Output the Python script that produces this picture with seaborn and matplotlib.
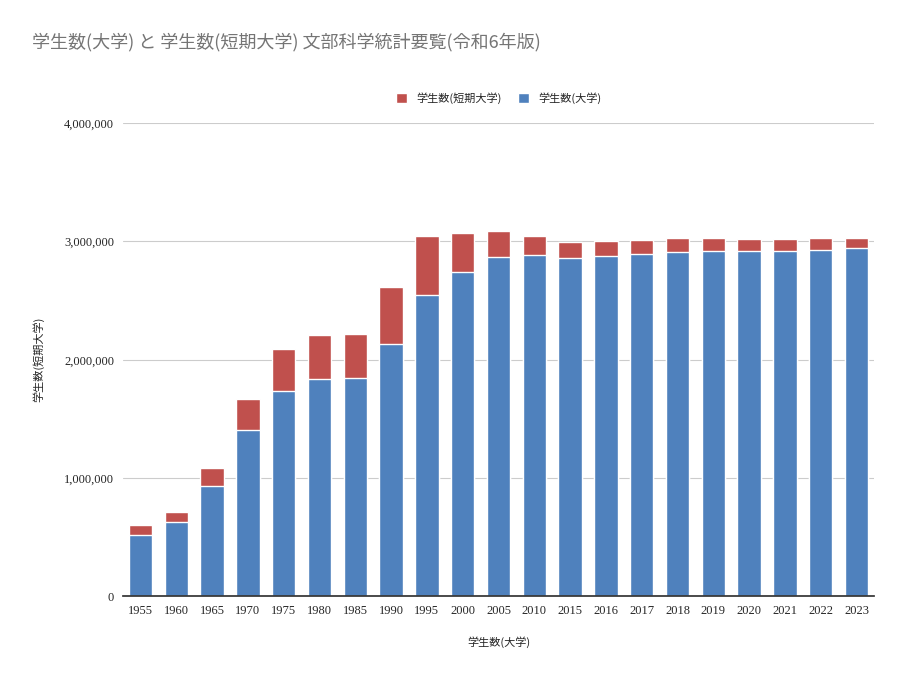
import numpy as np
import pandas as pd
import matplotlib
matplotlib.use("Agg")
import matplotlib.pyplot as plt
import seaborn as sns

years = ["1955", "1960", "1965", "1970", "1975", "1980", "1985", "1990", "1995", "2000",
         "2005", "2010", "2015", "2016", "2017", "2018", "2019", "2020", "2021", "2022", "2023"]
univ = [523355, 626421, 937556, 1406521, 1734082, 1835312, 1848698, 2133362, 2546649, 2740023,
        2865051, 2887414, 2860210, 2873624, 2890880, 2909159, 2918668, 2915605, 2917998, 2930780, 2945599]
junior = [77885, 83457, 147563, 263219, 353782, 371124, 371095, 479389, 498516, 327680,
          219355, 155273, 132681, 128460, 123949, 119035, 113013, 107596, 102232, 94713, 86689]

sns.set_theme(style="white")
plt.rcParams['font.family'] = ['Noto Sans CJK JP', 'DejaVu Sans']

df = pd.DataFrame({"year": years, "univ": univ,
                   "total": np.array(univ) + np.array(junior)})

fig, ax = plt.subplots(figsize=(9.08, 6.84), dpi=100)
sns.barplot(data=df, x="year", y="total", color="#c0504d", width=0.65,
            saturation=1, ax=ax, label="学生数(短期大学)")
sns.barplot(data=df, x="year", y="univ", color="#4f81bd", width=0.65,
            saturation=1, ax=ax, label="学生数(大学)")

ax.set_ylim(0, 4000000)
ax.set_yticks([0, 1000000, 2000000, 3000000, 4000000])
ax.set_yticklabels(["0", "1,000,000", "2,000,000", "3,000,000", "4,000,000"],
                   family="Liberation Serif", fontsize=9)
for t in ax.get_xticklabels():
    t.set_family("Liberation Serif")
    t.set_fontsize(9)
ax.grid(axis="y", color="#cccccc", linewidth=0.8)
ax.set_axisbelow(True)
for s in ["top", "right", "left"]:
    ax.spines[s].set_visible(False)
ax.spines["bottom"].set_color("#333333")
ax.tick_params(axis="both", length=0, pad=6)
ax.set_xlabel("学生数(大学)", fontsize=8, labelpad=14)
ax.set_ylabel("学生数(短期大学)", fontsize=8, labelpad=14)

ax.legend(loc="lower center", bbox_to_anchor=(0.5, 1.02), ncol=2, frameon=False,
          fontsize=8, handlelength=1, handleheight=1, columnspacing=1.5)
fig.text(0.035, 0.93, "学生数(大学) と 学生数(短期大学) 文部科学統計要覧(令和6年版)",
         fontsize=13, color="#757575")

fig.subplots_adjust(left=0.135, right=0.963, top=0.82, bottom=0.128)
fig.savefig("out.png", dpi=100)
